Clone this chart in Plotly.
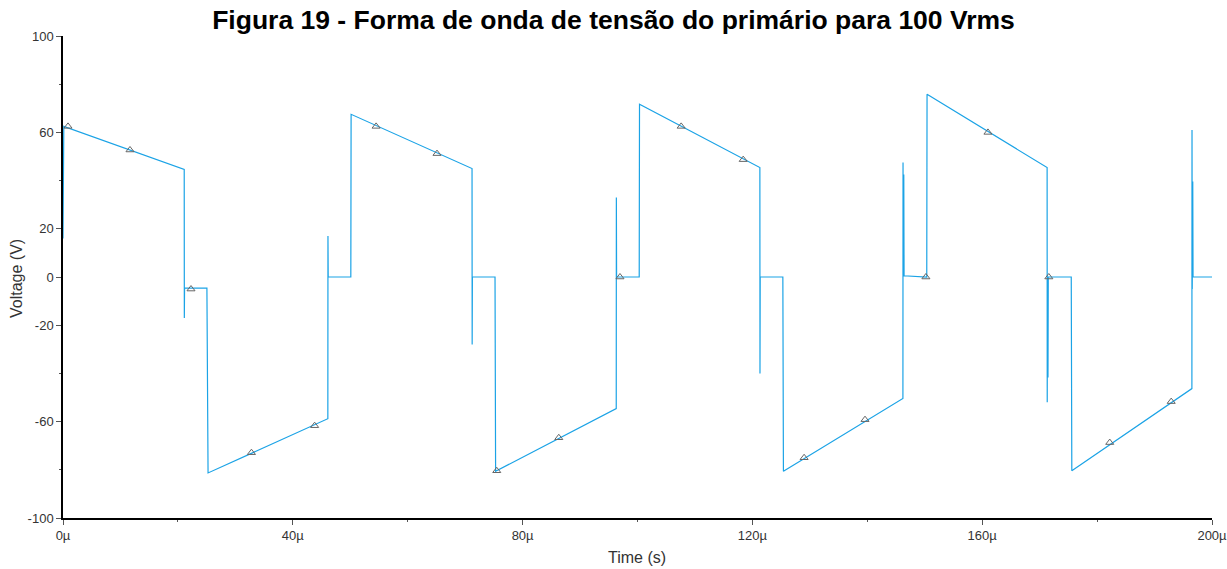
import plotly.graph_objects as go

# Primary voltage waveform (time in microseconds, voltage in volts)
time_us = [
    0.0, 0.03, 0.08, 0.14,
    21.1, 21.12, 21.16, 25.05, 25.1, 25.25,
    46.1, 46.12, 46.16, 50.1, 50.15,
    71.2, 71.22, 71.26, 75.2, 75.3,
    96.3, 96.32, 96.36, 100.3, 100.35,
    121.3, 121.32, 121.36, 125.3, 125.4,
    146.2, 146.22, 146.26, 146.35, 146.4, 150.35, 150.4,
    171.3, 171.32, 171.36, 171.45, 171.5, 175.5, 175.6,
    196.5, 196.52, 196.56, 196.65, 196.7, 200.0,
]
voltage_v = [
    16.0, 62.0, 22.0, 62.5,
    44.6, -17.0, -4.6, -4.6, -54.0, -81.3,
    -58.8, 17.0, 0.0, 0.0, 67.5,
    45.0, -28.0, 0.0, 0.0, -80.6,
    -54.6, 33.0, 0.0, 0.0, 71.7,
    45.4, -40.0, 0.0, 0.0, -80.6,
    -50.4, 47.5, 0.5, 42.5, 0.5, 0.0, 75.8,
    45.4, -52.0, 0.0, -41.7, 0.0, 0.0, -80.4,
    -46.3, 61.0, -5.0, 39.6, 0.0, 0.0,
]

# Probe markers placed along the trace
marker_t_us = [0.87, 11.66, 22.28, 32.8, 43.8, 54.5, 65.1, 75.5, 86.3, 96.95,
               107.6, 118.4, 129.0, 139.6, 150.2, 161.0, 171.6, 182.2, 192.9]
marker_v = [62.5, 52.7, -5.0, -72.9, -61.7, 62.5, 51.2, -80.4, -66.7, 0.0,
            62.5, 48.7, -75.0, -59.2, 0.0, 60.0, 0.0, -68.7, -51.7]

x_ticks = [0, 40, 80, 120, 160, 200]
x_tick_text = ["0µ", "40µ", "80µ", "120µ", "160µ", "200µ"]
y_ticks = [-100, -60, -20, 0, 20, 60, 100]
y_tick_text = ["-100", "-60", "-20", "0", "20", "60", "100"]
y_minor = [-80, -40, 40, 80]
x_minor = [20, 60, 100, 140, 180]

trace_color = "#1ba3e6"
font_family = "Liberation Sans, Arial, sans-serif"

fig = go.Figure()
fig.add_trace(go.Scatter(
    x=time_us, y=voltage_v, mode="lines",
    line=dict(color=trace_color, width=1.2),
    hoverinfo="skip", showlegend=False,
))
fig.add_trace(go.Scatter(
    x=marker_t_us, y=marker_v, mode="markers",
    marker=dict(symbol="triangle-up-open", size=7, color="#666666",
                line=dict(width=1, color="#666666")),
    showlegend=False,
))

fig.update_layout(
    width=1227, height=569,
    margin=dict(l=63, r=15, t=36, b=51, autoexpand=False),
    paper_bgcolor="white", plot_bgcolor="white",
    font=dict(family=font_family, color="#333333", size=13),
    title=dict(
        text="<b>Figura 19 - Forma de onda de tensão do primário para 100 Vrms</b>",
        x=0.5, xanchor="center", y=0.965, yanchor="middle",
        font=dict(family=font_family, size=26.5, color="#000000"),
    ),
    annotations=[
        dict(text="Voltage (V)", xref="paper", yref="paper", x=-0.040, y=0.496,
             xanchor="center", yanchor="middle", textangle=-90, showarrow=False,
             font=dict(size=16, color="#333333")),
        dict(text="Time (s)", xref="paper", yref="paper", x=0.4996, y=-0.081,
             xanchor="center", yanchor="middle", showarrow=False,
             font=dict(size=16, color="#333333")),
    ],
)
fig.update_xaxes(
    range=[0, 200], showgrid=False, zeroline=False, automargin=False,
    showline=True, linecolor="#000000", linewidth=1.5,
    tickmode="array", tickvals=x_ticks, ticktext=x_tick_text,
    ticklabeloverflow="allow",
    ticks="outside", ticklen=5, tickcolor="#555555",
    minor=dict(tickmode="array", tickvals=x_minor, ticks="outside",
               ticklen=2, tickcolor="#555555"),
    tickfont=dict(size=13, color="#333333"),
)
fig.update_yaxes(
    range=[-100, 100], showgrid=False, zeroline=False, automargin=False,
    showline=True, linecolor="#000000", linewidth=1.5,
    tickmode="array", tickvals=y_ticks, ticktext=y_tick_text,
    ticklabeloverflow="allow",
    ticks="outside", ticklen=5, tickcolor="#555555",
    minor=dict(tickmode="array", tickvals=y_minor, ticks="outside",
               ticklen=2, tickcolor="#555555"),
    tickfont=dict(size=13, color="#333333"),
)

fig.write_html("out.html")
